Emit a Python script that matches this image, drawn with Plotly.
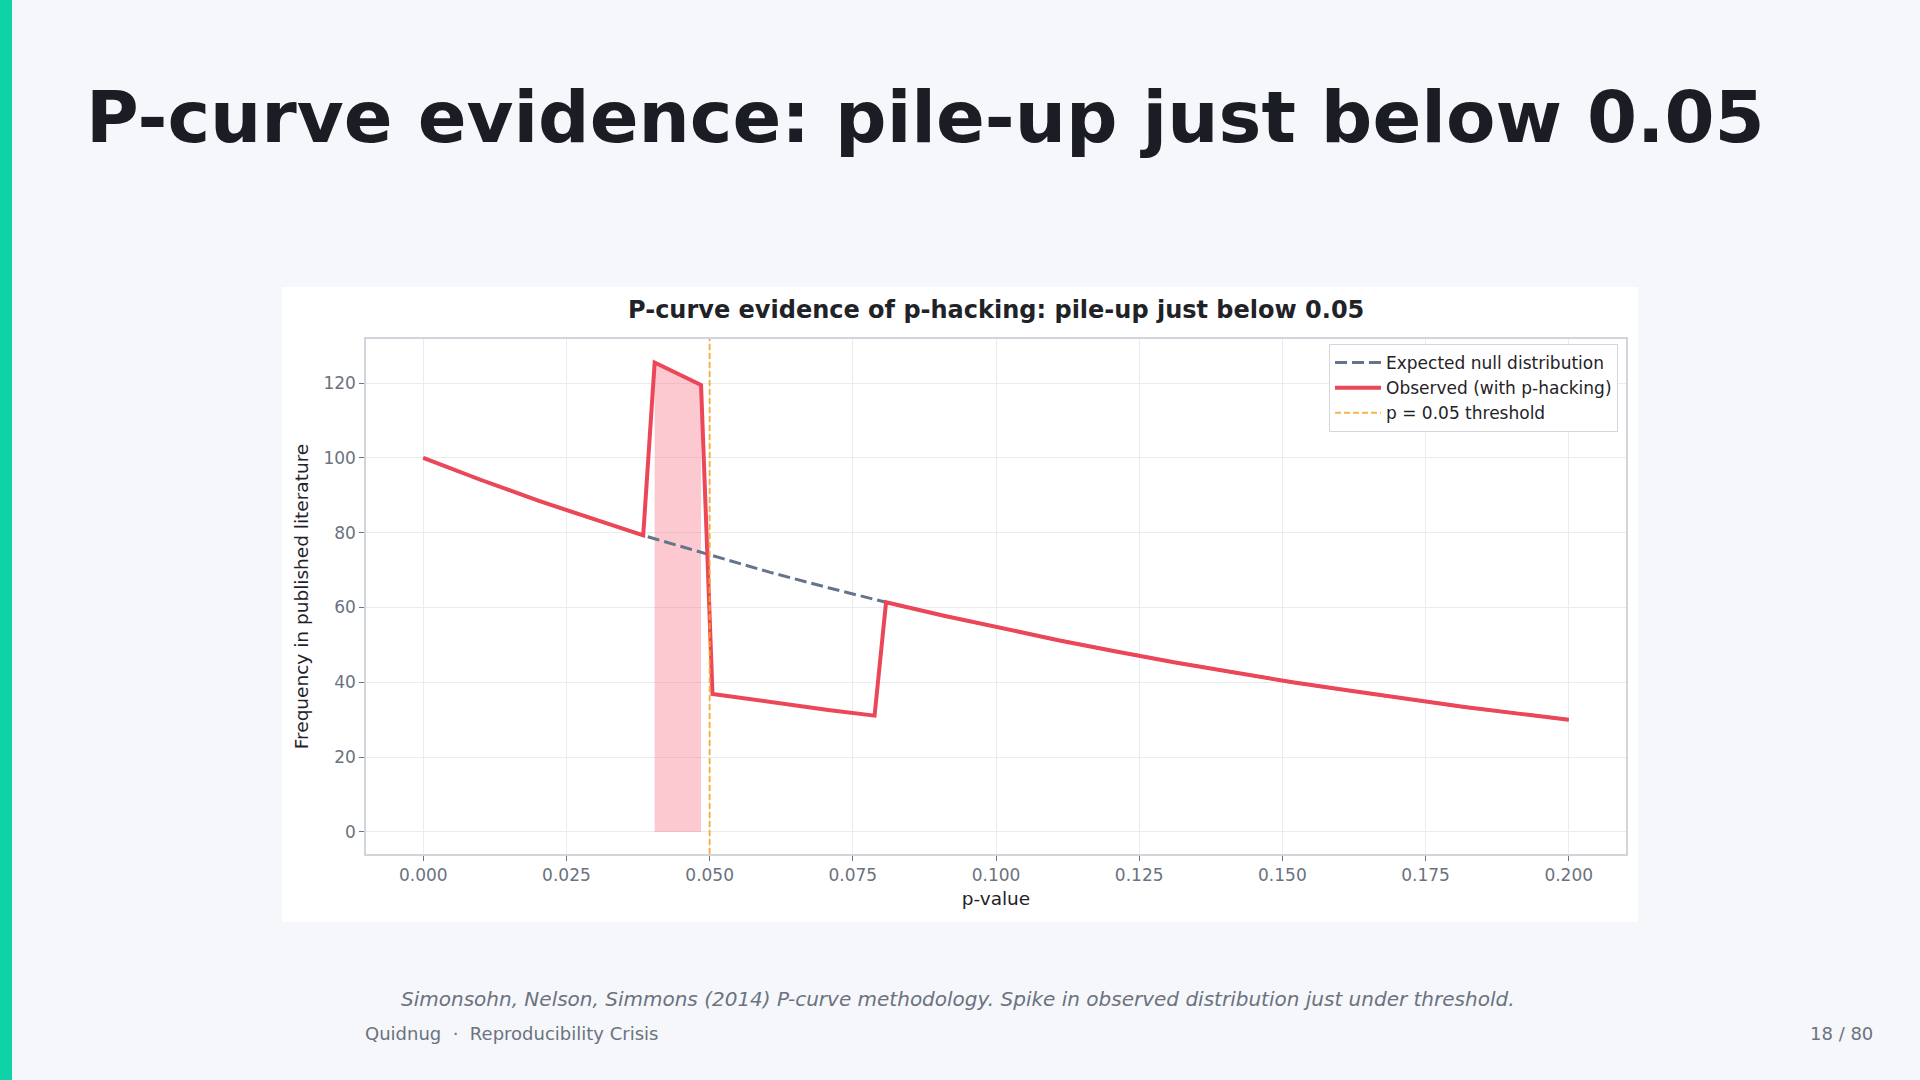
import plotly.graph_objects as go

# p-value grid points
p_values = [0.0, 0.0101, 0.0202, 0.0303, 0.0384, 0.0404, 0.0424, 0.0444, 0.0465,
            0.0485, 0.0505, 0.0606, 0.0707, 0.0788, 0.0808, 0.0909, 0.1010, 0.1111,
            0.1212, 0.1313, 0.1414, 0.1515, 0.1616, 0.1717, 0.1818, 0.1919, 0.2]

# expected frequencies without p-hacking
null_freq = [100.0, 94.1, 88.5, 83.3, 79.3, 78.4, 77.5, 76.5, 75.6,
             74.7, 73.8, 69.4, 65.3, 62.2, 61.4, 57.8, 54.4, 51.2,
             48.2, 45.3, 42.7, 40.1, 37.8, 35.5, 33.4, 31.5, 30.0]

# observed frequencies (spike just below .05, dip just above)
observed_freq = [100.0, 94.1, 88.5, 83.3, 79.3, 125.5, 124.0, 122.5, 121.0,
                 119.5, 36.9, 34.7, 32.6, 31.1, 61.4, 57.8, 54.4, 51.2,
                 48.2, 45.3, 42.7, 40.1, 37.8, 35.5, 33.4, 31.5, 30.0]

threshold = 0.05
x_ticks = [0.0, 0.025, 0.05, 0.075, 0.1, 0.125, 0.15, 0.175, 0.2]
y_ticks = [0, 20, 40, 60, 80, 100, 120]

# points in the pile-up band [0.04, 0.05)
spike_x = [p for p in p_values if 0.04 <= p < threshold]
spike_y = [o for p, o in zip(p_values, observed_freq) if 0.04 <= p < threshold]

FONT = "DejaVu Sans"
RED = "#ec4659"
SLATE = "#64748b"
AMBER = "rgba(244,168,40,0.85)"
MUTED = "#6b7280"
DARK = "#1f2328"

# plot area in page pixels
L, R, T, B = 366, 1626, 339, 854
W, H = R - L, B - T


def fx(x):
    return (x - L) / W


def fy(y):
    return (B - y) / H


fig = go.Figure()

fig.add_trace(go.Scatter(
    x=spike_x, y=spike_y, mode="lines", fill="tozeroy",
    line=dict(color="rgba(244,114,128,0.45)", width=1),
    fillcolor="rgba(246,120,134,0.4)", showlegend=False, hoverinfo="skip"))

fig.add_trace(go.Scatter(
    x=p_values, y=null_freq, mode="lines", name="Expected null distribution",
    line=dict(color=SLATE, width=3, dash="12px,5px")))

fig.add_trace(go.Scatter(
    x=p_values, y=observed_freq, mode="lines", name="Observed (with p-hacking)",
    line=dict(color=RED, width=4)))

fig.add_shape(type="line", x0=threshold, x1=threshold, y0=0, y1=1,
              xref="x", yref="y domain",
              line=dict(color=AMBER, width=2, dash="6px,3px"),
              showlegend=True, name="p = 0.05 threshold")

shapes_bg = [
    # white card behind the chart
    dict(type="rect", xref="paper", yref="paper", x0=fx(282), x1=fx(1638),
         y0=fy(922), y1=fy(287), fillcolor="white", line=dict(width=0),
         layer="below"),
    # accent bar on the left edge
    dict(type="rect", xref="paper", yref="paper", x0=fx(0), x1=fx(12),
         y0=fy(1080), y1=fy(0), fillcolor="#0fd3a6", line=dict(width=0),
         layer="below"),
]
for s in shapes_bg:
    fig.add_shape(**s)

annotations = [
    dict(text="<b>P-curve evidence: pile-up just below 0.05</b>", x=fx(84), y=fy(117),
         xanchor="left", yanchor="middle", font=dict(size=72, color="#1a1d23")),
    dict(text="<b>P-curve evidence of p-hacking: pile-up just below 0.05</b>",
         x=fx(996), y=fy(310), xanchor="center", yanchor="middle",
         font=dict(size=24, color=DARK)),
    dict(text="Simonsohn, Nelson, Simmons (2014) P-curve methodology. "
              "Spike in observed distribution just under threshold.",
         x=fx(958), y=fy(999), xanchor="center", yanchor="middle",
         font=dict(size=20, color=MUTED, style="italic")),
    dict(text="Quidnug \u00a0·\u00a0 Reproducibility Crisis", x=fx(363), y=fy(1033),
         xanchor="left", yanchor="middle", font=dict(size=18, color=MUTED)),
    dict(text="18 / 80", x=fx(1875), y=fy(1033), xanchor="right", yanchor="middle",
         font=dict(size=18, color=MUTED)),
]
for a in annotations:
    fig.add_annotation(xref="paper", yref="paper", showarrow=False, **a)

axis_common = dict(
    showgrid=True, gridcolor="#e8ebef", gridwidth=1,
    showline=True, linecolor="#d1d5db", linewidth=1.5, mirror=True,
    ticks="outside", ticklen=5, tickcolor=MUTED, tickwidth=1,
    tickfont=dict(family=FONT, size=17, color=MUTED),
    zeroline=False,
)

fig.update_xaxes(range=[-0.01, 0.21], tickvals=x_ticks, tickformat=".3f",
                 title=dict(text="p-value", font=dict(family=FONT, size=18.5, color=DARK),
                            standoff=8),
                 **axis_common)
fig.update_yaxes(range=[-5.9, 131.8], tickvals=y_ticks,
                 title=dict(text="Frequency in published literature",
                            font=dict(family=FONT, size=18.5, color=DARK), standoff=10),
                 **axis_common)

fig.update_layout(
    width=1920, height=1080,
    margin=dict(l=L, r=1920 - R, t=T, b=1080 - B),
    paper_bgcolor="#f5f7fa", plot_bgcolor="white",
    font=dict(family=FONT, color=DARK),
    legend=dict(x=fx(1618), y=fy(344), xanchor="right", yanchor="top",
                bgcolor="white", bordercolor="#d4d8de", borderwidth=1,
                itemwidth=46,
                font=dict(family=FONT, size=17, color=DARK)),
    hovermode=False,
)

# drop the default page margin so the slide sits flush at the top-left
fig.write_html("out.html",
               config={"displayModeBar": False},
               post_script="document.body.style.margin='0';"
                           "document.body.style.overflow='hidden';")
